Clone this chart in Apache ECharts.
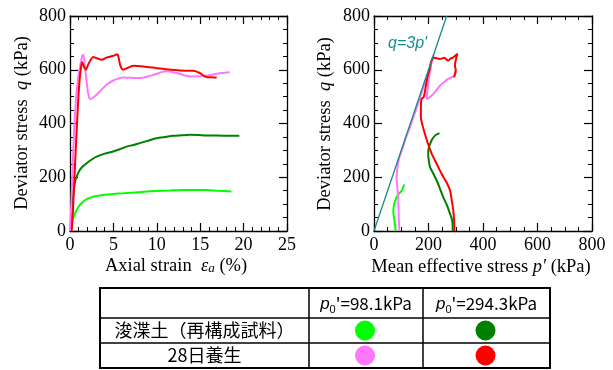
<!DOCTYPE html>
<html><head><meta charset="utf-8">
<script src="https://cdn.jsdelivr.net/npm/echarts@6/dist/echarts.min.js"></script>
<style>html,body{margin:0;padding:0;background:#fff}#c{width:613px;height:370px}</style>
</head><body><div id="c"></div>
<script>
// ---- Left panel: q vs axial strain ----
const strainLG = [0,0.1,0.3,0.58,0.85,1.15,1.5,1.92,2.5,3.07,4.0,4.98,6,7.3,8.5,9.97,11.5,13,14.5,15.7,17,18.6];
const qLG      = [0,16,42,66,83,97,109,119,126,130,135,138,140,143,146,149,151,153,153,153,150,147];
const strainDG = [0.1,0.2,0.3,0.45,0.6,0.77,1.0,1.4,1.92,2.5,3.07,4.0,4.98,5.8,6.52,7.3,8.05,9.0,9.97,11,11.9,12.8,13.8,14.8,15.7,17,18.4,19.5];
const qDG      = [0,60,110,155,185,202,220,238,252,266,277,288,296,305,314,320,327,336,345,350,354,356,358,357,355,355,354,354];
const strainPK = [0,0.15,0.35,0.6,0.9,1.2,1.4,1.53,1.7,1.9,2.1,2.3,2.6,3.07,3.6,4.2,5.0,6.13,7,8.05,9.5,11.1,12,12.65,13.8,14.8,15.7,16.9,17.5,18.4];
const qPK      = [0,100,280,450,560,620,650,656,620,560,510,491,495,507,525,544,560,571,570,569,580,594,590,585,575,576,578,585,588,591];
const strainRD = [0.2,0.35,0.5,0.7,0.9,1.1,1.3,1.42,1.6,1.84,2.1,2.68,3.1,3.64,4.2,5.0,5.44,5.6,5.8,6.13,6.5,7.3,8.5,9.97,11,12.65,14.2,14.95,15.7,16.3,16.9];
const qRD      = [0,80,190,330,460,560,615,628,612,600,620,647,643,637,645,652,658,645,615,600,605,615,612,606,602,597,596,588,573,572,571];

// ---- Right panel: q vs p' ----
const pLG = [80,76,72,71,74,83,92,102,107,111];
const qLG2 = [0,30,60,76,100,126,140,150,162,173];
const pPK = [93,91,89,86,83,84,86,92,102,118,132,145,157,170,186,199,208,216,219,210,203,197,193,200,212,230,242,258,272,285,291,301,296];
const qPK2 = [0,50,113,160,188,215,237,270,299,350,386,425,460,500,550,590,620,645,656,620,580,530,491,495,504,525,541,555,566,572,575,590,595];
const pDG = [289,288,284,279,268,254,242,230,218,206,201,199,200,206,214,224,232,240];
const qDG2 = [0,30,50,64,95,126,158,188,213,237,262,287,305,324,342,355,360,364];
const pRD = [295,294,291,286,279,265,248,230,212,198,187,178,172,172,174,183,192,198,204,210,220,242,258,272,282,291,306,297,300,294];
const qRD2 = [0,40,76,110,151,183,213,250,287,325,361,393,423,460,490,500,550,580,600,631,645,640,645,634,642,646,660,615,600,572];
const pCSL = [0,266.7];
const qCSL = [0,800];

// ---- Legend table ----
const rowLabels = ['浚渫土（再構成試料）','28日養生'];
const colLabels = ['98.1','294.3'];
const colors = [['#00ff00','#008000'],['#ff77ff','#ff0000']];

const zip = (a,b)=>a.map((v,i)=>[v,b[i]]);
const SERIF = '"Liberation Serif","Times New Roman",serif';
const SANS = '"Noto Sans CJK JP","Noto Sans",sans-serif';

function ax(opts){
  return Object.assign({
    type:'value', splitLine:{show:false},
    axisLine:{show:true,onZero:false,lineStyle:{color:'#000',width:1.3}},
    axisTick:{show:true,inside:true,length:8,lineStyle:{color:'#000',width:1.2}},
    axisLabel:{show:false},
  }, opts);
}
const lab = {show:true,color:'#000',fontFamily:SERIF,fontSize:18};
const mt = n => ({show:true,splitNumber:n,length:4,lineStyle:{color:'#000',width:1}});

const xAxis = [
  ax({gridIndex:0,position:'bottom',min:0,max:25,interval:5,minorTick:mt(5),axisLabel:Object.assign({margin:5},lab)}),
  ax({gridIndex:0,position:'top',min:0,max:25,interval:5,minorTick:mt(5)}),
  ax({gridIndex:1,position:'bottom',min:0,max:800,interval:200,minorTick:mt(4),axisLabel:Object.assign({margin:5},lab)}),
  ax({gridIndex:1,position:'top',min:0,max:800,interval:200,minorTick:mt(4)})
];
const yAxis = [
  ax({gridIndex:0,position:'left',min:0,max:800,interval:200,minorTick:mt(4),axisLabel:Object.assign({margin:4},lab)}),
  ax({gridIndex:0,position:'right',min:0,max:800,interval:200,minorTick:mt(4)}),
  ax({gridIndex:1,position:'left',min:0,max:800,interval:200,minorTick:mt(4),axisLabel:Object.assign({margin:4},lab)}),
  ax({gridIndex:1,position:'right',min:0,max:800,interval:200,minorTick:mt(4)})
];

function ln(data,color,xi,yi,w){
  return {type:'line',data,xAxisIndex:xi,yAxisIndex:yi,showSymbol:false,symbol:'none',smooth:0.25,
          lineStyle:{color,width:w||2},silent:true,animation:false,clip:true};
}
const series = [
  ln(zip(strainLG,qLG),'#00ff00',0,0),
  ln(zip(strainDG,qDG),'#008000',0,0),
  ln(zip(strainPK,qPK),'#ff77ff',0,0),
  ln(zip(strainRD,qRD),'#ff0000',0,0),
  ln(zip(pLG,qLG2),'#00ff00',2,2),
  ln(zip(pDG,qDG2),'#008000',2,2),
  ln(zip(pPK,qPK2),'#ff77ff',2,2),
  ln(zip(pRD,qRD2),'#ff0000',2,2),
  Object.assign(ln(zip(pCSL,qCSL),'#168c8c',2,2,1.3),{smooth:false})
];

const NF = 18.5;
const nameRich = {
  t:{fontFamily:SERIF,fontSize:NF,fill:'#000'},
  i:{fontFamily:SERIF,fontSize:NF,fontStyle:'italic',fill:'#000'},
  s:{fontFamily:SERIF,fontSize:13,fontStyle:'italic',fill:'#000',verticalAlign:'bottom'}
};
function axisName(text,x,y,rot){
  return {type:'text',x,y,rotation:rot?Math.PI/2:0,style:{text,align:'center',verticalAlign:'middle',rich:nameRich}};
}

// table graphics
const T = {x0:100,x1:309,x2:423,x3:550,y0:288,y1:318,y2:343,y3:368};
const cx = [(T.x1+T.x2)/2,(T.x2+T.x3)/2];
const cy = [(T.y1+T.y2)/2,(T.y2+T.y3)/2];
const graphic = [
  axisName('{t|Deviator stress  }{i|q}{t| (kPa)}',22,123,true),
  axisName('{t|Deviator stress  }{i|q}{t| (kPa)}',325,124,true),
  axisName('{t|Axial strain  }{i|ε}{s|a}{t| (%)}',176,266,false),
  axisName('{t|Mean effective stress }{i|p′}{t| (kPa)}',481,267,false),
  {type:'rect',shape:{x:T.x0,y:T.y0,width:T.x3-T.x0,height:T.y3-T.y0},style:{fill:'#fff',stroke:'#000',lineWidth:2}},
  {type:'line',shape:{x1:T.x1,y1:T.y0,x2:T.x1,y2:T.y3},style:{stroke:'#000',lineWidth:1.5}},
  {type:'line',shape:{x1:T.x2,y1:T.y0,x2:T.x2,y2:T.y3},style:{stroke:'#000',lineWidth:1.5}},
  {type:'line',shape:{x1:T.x0,y1:T.y1,x2:T.x3,y2:T.y1},style:{stroke:'#000',lineWidth:1.5}},
  {type:'line',shape:{x1:T.x0,y1:T.y2,x2:T.x3,y2:T.y2},style:{stroke:'#000',lineWidth:1.5}},
  {type:'text',x:388,y:44,style:{text:"q=3p'",fill:'#168c8c',fontFamily:'"Liberation Sans",Arial,sans-serif',fontSize:16,fontStyle:'italic',verticalAlign:'middle'}}
];
colLabels.forEach((c,j)=>{
  graphic.push({type:'text',x:cx[j],y:(T.y0+T.y1)/2+1,style:{
    text:'{p|p}{s|0}{t|\'='+c+'kPa}',align:'center',verticalAlign:'middle',
    rich:{p:{fontFamily:'"Liberation Sans",sans-serif',fontStyle:'italic',fontSize:17,fill:'#000'},
          s:{fontFamily:'"Liberation Sans",sans-serif',fontSize:11,fill:'#000',verticalAlign:'bottom',padding:[0,0,-3,0]},
          t:{fontFamily:SANS,fontSize:17,fill:'#000'}}}});
});
rowLabels.forEach((r,i)=>{
  graphic.push({type:'text',x:(T.x0+T.x1)/2,y:cy[i],style:{text:r,align:'center',verticalAlign:'middle',fontFamily:SANS,fontSize:18,fill:'#000'}});
  colors[i].forEach((col,j)=>{
    graphic.push({type:'circle',shape:{cx:cx[j]-1,cy:cy[i],r:10},style:{fill:col}});
  });
});

const chart = echarts.init(document.getElementById('c'),null,{renderer:'canvas'});
chart.setOption({
  animation:false,
  grid:[{left:70,top:16,width:217,height:215},{left:374,top:16,width:218,height:215}],
  xAxis, yAxis, series, graphic
});
</script></body></html>
